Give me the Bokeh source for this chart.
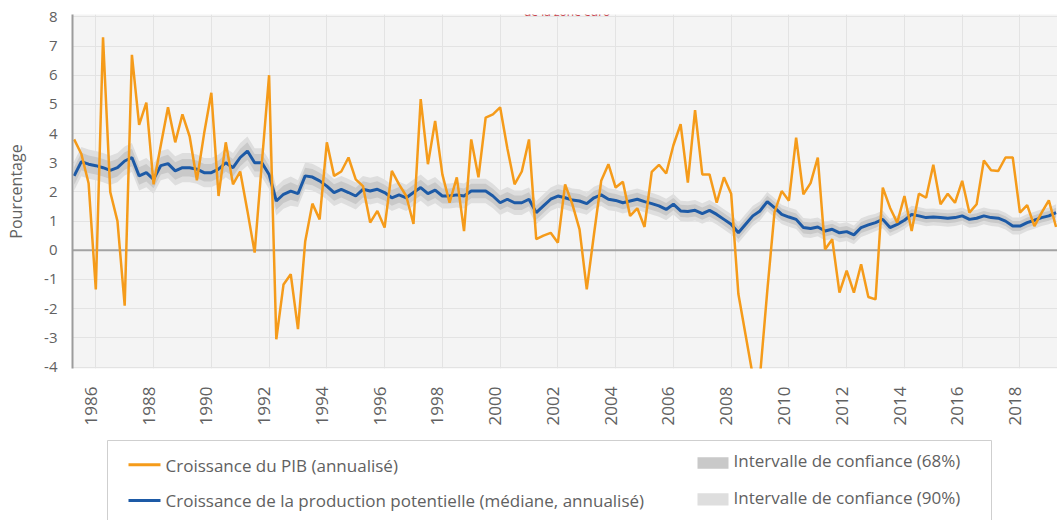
import math
from bokeh.plotting import figure
from bokeh.models import Range1d, FixedTicker, CustomJSTickFormatter, Label, Span
from bokeh.layouts import column
from bokeh.embed import file_html
from bokeh.resources import INLINE
from bokeh.core.properties import value

# ---------------- data (quarterly, first point = 1985 Q2) ----------------
start_year = 1985
start_quarter = 2

gdp_growth = [
    3.8, 3.3, 2.3,                      # 1985 Q2-Q4
    -1.34, 7.3, 2.0, 1.0,               # 1986
    -1.9, 6.7, 4.3, 5.06,               # 1987
    2.26, 3.6, 4.9, 3.7,                # 1988
    4.66, 3.9, 2.4, 4.0,                # 1989
    5.4, 1.86, 3.7, 2.26,               # 1990
    2.7, 1.35, -0.08, 3.0,              # 1991
    6.0, -3.05, -1.17, -0.82,           # 1992
    -2.7, 0.3, 1.6, 1.06,               # 1993
    3.7, 2.55, 2.7, 3.18,               # 1994
    2.43, 2.2, 0.95, 1.35,              # 1995
    0.78, 2.72, 2.26, 1.86,             # 1996
    0.9, 5.18, 2.95, 4.43,              # 1997
    2.6, 1.63, 2.5, 0.66,               # 1998
    3.8, 2.5, 4.55, 4.66,               # 1999
    4.9, 3.5, 2.26, 2.7,                # 2000
    3.8, 0.38, 0.5, 0.6,                # 2001
    0.26, 2.26, 1.58, 0.72,             # 2002
    -1.34, 0.55, 2.38, 2.95,            # 2003
    2.15, 2.35, 1.18, 1.44,             # 2004
    0.8, 2.69, 2.93, 2.63,              # 2005
    3.6, 4.32, 2.32, 4.8,               # 2006
    2.6, 2.6, 1.63, 2.5,                # 2007
    1.94, -1.5, -2.9, -4.3,             # 2008
    -4.3, -1.4, 1.3, 2.03,              # 2009
    1.7, 3.86, 1.92, 2.3,               # 2010
    3.18, 0.03, 0.38, -1.45,            # 2011
    -0.7, -1.45, -0.48, -1.6,           # 2012
    -1.68, 2.15, 1.46, 0.95,            # 2013
    1.86, 0.66, 1.94, 1.8,              # 2014
    2.93, 1.58, 1.94, 1.63,             # 2015
    2.38, 1.29, 1.58, 3.08,             # 2016
    2.74, 2.72, 3.18, 3.18,             # 2017
    1.29, 1.55, 0.83, 1.29,             # 2018
    1.71, 0.8,                          # 2019 Q1-Q2
]

potential_growth = [
    2.55, 3.04, 2.95,
    2.9, 2.83, 2.74, 2.83,
    3.06, 3.18, 2.55, 2.66,
    2.43, 2.9, 2.97, 2.72,
    2.83, 2.83, 2.78, 2.66,
    2.66, 2.78, 3.0, 2.83,
    3.18, 3.4, 3.0, 3.0,
    2.6, 1.69, 1.92, 2.03,
    1.94, 2.55, 2.51, 2.38,
    2.2, 1.98, 2.09, 1.98,
    1.86, 2.09, 2.03, 2.09,
    1.98, 1.8, 1.9, 1.8,
    1.98, 2.15, 1.94, 2.06,
    1.86, 1.86, 1.9, 1.86,
    2.03, 2.03, 2.03, 1.86,
    1.63, 1.75, 1.63, 1.63,
    1.75, 1.29, 1.52, 1.75,
    1.86, 1.8, 1.72, 1.69,
    1.6, 1.8, 1.9, 1.75,
    1.71, 1.63, 1.69, 1.75,
    1.67, 1.6, 1.52, 1.4,
    1.58, 1.35, 1.33, 1.37,
    1.26, 1.37, 1.23, 1.06,
    0.89, 0.6, 0.89, 1.18,
    1.35, 1.67, 1.46, 1.23,
    1.14, 1.06, 0.78, 0.75,
    0.8, 0.66, 0.72, 0.6,
    0.64, 0.53, 0.78, 0.87,
    0.95, 1.06, 0.78, 0.89,
    1.03, 1.23, 1.18, 1.12,
    1.14, 1.12, 1.1, 1.12,
    1.18, 1.06, 1.1, 1.18,
    1.12, 1.1, 1.0, 0.83,
    0.83, 0.95, 1.03, 1.12,
    1.18, 1.29,
]

# half-widths of the confidence bands, one value per year 1985..2019
band_years = list(range(1985, 2020))
half_width_68 = [0.30, 0.30, 0.30, 0.30, 0.30, 0.30, 0.30, 0.30, 0.28, 0.28,
                 0.28, 0.27, 0.27, 0.26, 0.25, 0.25, 0.24, 0.24, 0.23, 0.22,
                 0.22, 0.21, 0.21, 0.21, 0.20, 0.20, 0.19, 0.19, 0.18, 0.18,
                 0.17, 0.17, 0.17, 0.17, 0.17]
half_width_90 = [0.50, 0.50, 0.50, 0.50, 0.50, 0.50, 0.50, 0.50, 0.46, 0.46,
                 0.46, 0.45, 0.45, 0.43, 0.42, 0.42, 0.40, 0.40, 0.38, 0.37,
                 0.37, 0.35, 0.35, 0.35, 0.33, 0.33, 0.32, 0.32, 0.30, 0.30,
                 0.29, 0.29, 0.29, 0.29, 0.29]

year_ticks = list(range(1986, 2019, 2))
value_ticks = list(range(-4, 9))

title_text = "de la zone euro"
y_label = "Pourcentage"
legend_labels = [
    "Croissance du PIB (annualisé)",
    "Croissance de la production potentielle (médiane, annualisé)",
    "Intervalle de confiance (68%)",
    "Intervalle de confiance (90%)",
]

# ---------------- derived coordinates ----------------
n = len(gdp_growth)
t = [start_year + (start_quarter - 1 + i) / 4.0 for i in range(n)]
qyear = [int(math.floor(v)) for v in t]
hw68 = [half_width_68[band_years.index(y)] for y in qyear]
hw90 = [half_width_90[band_years.index(y)] for y in qyear]
lo68 = [m - h for m, h in zip(potential_growth, hw68)]
hi68 = [m + h for m, h in zip(potential_growth, hw68)]
lo90 = [m - h for m, h in zip(potential_growth, hw90)]
hi90 = [m + h for m, h in zip(potential_growth, hw90)]

FONT = "Open Sans"
TXT = "#616161"
ORANGE = "#f59b1a"
BLUE = "#1d5aa6"
DARK_BAND = "#c9c9c9"
LIGHT_BAND = "#dedede"

W = 1057
FRAME_LEFT = 72

p = figure(width=W, height=438,
           x_range=Range1d(1985.193, 2019.30),
           y_range=Range1d(-4.05, 8.08),
           output_backend="svg", toolbar_location=None,
           min_border_left=FRAME_LEFT, min_border_right=0,
           min_border_top=14, min_border_bottom=70,
           background_fill_color="#f4f4f4", border_fill_color="white",
           outline_line_color=None)

# grids
p.xgrid.ticker = FixedTicker(ticks=year_ticks)
p.ygrid.ticker = FixedTicker(ticks=value_ticks)
p.grid.grid_line_color = "#e3e3e3"
p.grid.grid_line_width = 1

# y axis
p.yaxis.ticker = FixedTicker(ticks=value_ticks)
p.yaxis.major_label_overrides = {v: str(v) for v in value_ticks}
p.yaxis.axis_line_color = "#9c9c9c"
p.yaxis.axis_line_width = 2
p.yaxis.major_tick_line_color = None
p.yaxis.minor_tick_line_color = None
p.yaxis.major_label_standoff = 9
p.yaxis.major_label_text_font = FONT
p.yaxis.major_label_text_font_size = "15px"
p.yaxis.major_label_text_color = TXT
p.yaxis.axis_label = y_label
p.yaxis.axis_label_text_font = FONT
p.yaxis.axis_label_text_font_size = "16px"
p.yaxis.axis_label_text_font_style = "normal"
p.yaxis.axis_label_text_color = TXT
p.yaxis.axis_label_standoff = 14

# x axis (labels slightly left of the grid lines, as in the original)
p.xaxis.ticker = FixedTicker(ticks=[y - 0.17 for y in year_ticks])
p.xaxis.formatter = CustomJSTickFormatter(code="return String(Math.round(tick));")
p.xaxis.major_label_orientation = math.pi / 2
p.xaxis.axis_line_color = None
p.xaxis.major_tick_line_color = None
p.xaxis.minor_tick_line_color = None
p.xaxis.major_label_standoff = 12
p.xaxis.major_label_text_font = FONT
p.xaxis.major_label_text_font_size = "17px"
p.xaxis.major_label_text_color = TXT

p.add_layout(Span(location=0, dimension="width", line_color="#a3a3a3",
                  line_width=2, level="underlay"))

p.varea(x=t, y1=lo90, y2=hi90, fill_color=LIGHT_BAND)
p.varea(x=t, y1=lo68, y2=hi68, fill_color=DARK_BAND)
p.line(x=t, y=potential_growth, line_color=BLUE, line_width=3)
p.line(x=t, y=gdp_growth, line_color=ORANGE, line_width=2.5)

p.add_layout(Label(x=2002.32, y=8.19, text=title_text, text_align="center",
                   text_baseline="alphabetic", text_font=FONT,
                   text_font_size="12px", text_color="#c8424d"))

# ---------------- legend panel (x in page pixels, y in pixels from its top) ----------------
lg = figure(width=W, height=82, x_range=Range1d(FRAME_LEFT, W), y_range=Range1d(82, 0),
            output_backend="svg", toolbar_location=None,
            x_axis_location=None, y_axis_location=None,
            min_border_left=FRAME_LEFT, min_border_right=0,
            min_border_top=0, min_border_bottom=0,
            background_fill_color="white", border_fill_color="white",
            outline_line_color=None)
lg.grid.visible = False
lg.quad(left=[107], right=[991], top=[2], bottom=[100], fill_color=None,
        line_color="#cfcfcf", line_width=1)
lg.segment(x0=[128, 128], y0=[26.3, 62], x1=[160, 160], y1=[26.3, 62],
           line_color=[ORANGE, BLUE], line_width=3)
lg.quad(left=[697, 697], right=[728, 728], top=[18.7, 54.7], bottom=[30.3, 67],
        fill_color=[DARK_BAND, LIGHT_BAND], line_color=None)
lg.text(x=[165, 165, 733, 733], y=[27, 62, 22, 58.7], text=legend_labels,
        text_font=value(FONT), text_font_size=value("17px"), text_color=TXT,
        text_align="left", text_baseline="middle")

layout = column(p, lg)
open("out.html", "w").write(file_html(layout, INLINE))
